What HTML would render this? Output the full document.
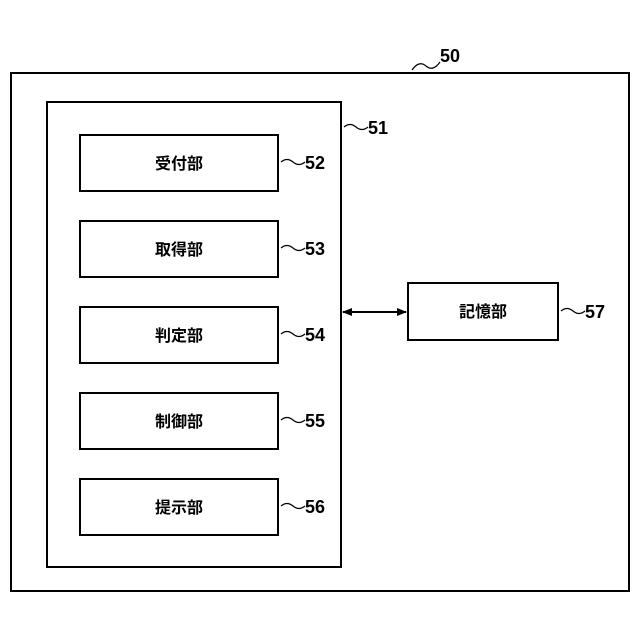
<html><body style="margin:0;background:#fff">
<svg width="640" height="640" xmlns="http://www.w3.org/2000/svg" style="display:block">
<defs><marker id="a" markerWidth="10" markerHeight="8" refX="9" refY="4" orient="auto-start-reverse" markerUnits="userSpaceOnUse"><path d="M0,0L10,4L0,8z" fill="#000"/></marker></defs>
<g fill="none" stroke="#000" stroke-width="2">
<rect x="11" y="73" width="618" height="518"/>
<rect x="47" y="102" width="294" height="465"/>
<rect x="80" y="135" width="198" height="56"/>
<rect x="80" y="221" width="198" height="56"/>
<rect x="80" y="307" width="198" height="56"/>
<rect x="80" y="393" width="198" height="56"/>
<rect x="80" y="479" width="198" height="56"/>
<rect x="408" y="283" width="150" height="57"/>
<line x1="343" y1="312" x2="406" y2="312" marker-start="url(#a)" marker-end="url(#a)"/>
</g>
<g fill="none" stroke="#000" stroke-width="1.2">
<path d="M412,70 q7,-10 14,-4 q7,6 14,-4"/>
<path d="M344,127 q6,-5 12,0 q6,5 12,0"/>
<path d="M281,162 q6,-5 12,0 q6,5 12,0"/>
<path d="M281,248 q6,-5 12,0 q6,5 12,0"/>
<path d="M281,334 q6,-5 12,0 q6,5 12,0"/>
<path d="M281,420 q6,-5 12,0 q6,5 12,0"/>
<path d="M281,506 q6,-5 12,0 q6,5 12,0"/>
<path d="M561,311 q6,-5 12,0 q6,5 12,0"/>
</g>
<g font-family="Liberation Sans, Noto Sans CJK JP, sans-serif" font-weight="bold" font-size="16" text-anchor="middle">
<text x="179" y="169">受付部</text>
<text x="179" y="255">取得部</text>
<text x="179" y="341">判定部</text>
<text x="179" y="427">制御部</text>
<text x="179" y="513">提示部</text>
<text x="483" y="317">記憶部</text>
</g>
<g font-family="Liberation Sans, sans-serif" font-weight="bold" font-size="18">
<text x="440" y="62">50</text>
<text x="368" y="134">51</text>
<text x="305" y="169">52</text>
<text x="305" y="255">53</text>
<text x="305" y="341">54</text>
<text x="305" y="427">55</text>
<text x="305" y="513">56</text>
<text x="585" y="318">57</text>
</g>
</svg>
</body></html>
